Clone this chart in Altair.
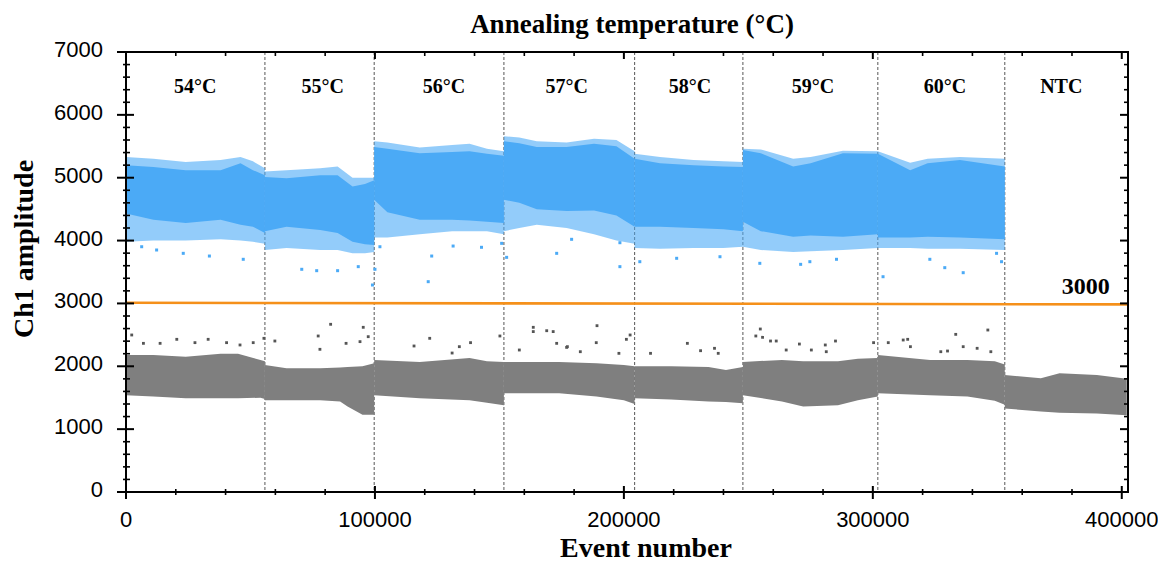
import altair as alt
import pandas as pd

# ---------------- data ----------------
boundaries = [55800, 99700, 151800, 204300, 247800, 302000, 353000]
seg_labels = ["54°C", "55°C", "56°C", "57°C", "58°C", "59°C", "60°C", "NTC"]
seg_label_x = [27800, 79000, 127700, 177000, 226500, 276000, 329000, 375700]
seg_label_y = 6450

# positive (blue) droplet bands per well
blue_x = [
    [0, 11000, 24000, 38000, 46000, 51000, 55800],
    [55800, 64500, 78000, 85000, 91000, 96000, 99700],
    [99700, 105000, 118000, 131000, 138000, 145000, 151800],
    [151800, 158000, 165000, 177000, 188000, 197000, 204300],
    [204300, 214500, 228000, 240000, 247800],
    [247800, 255000, 268000, 275000, 288000, 302000],
    [302000, 315000, 322000, 335000, 353000],
]
blue_core_hi = [
    [5200, 5170, 5120, 5120, 5230, 5120, 5040],
    [5010, 4990, 5040, 5040, 4860, 4900, 4960],
    [5490, 5460, 5390, 5410, 5420, 5380, 5350],
    [5580, 5550, 5490, 5490, 5540, 5500, 5300],
    [5300, 5230, 5200, 5180, 5170],
    [5440, 5390, 5180, 5230, 5390, 5380],
    [5380, 5120, 5230, 5280, 5180],
]
blue_core_lo = [
    [4430, 4330, 4280, 4330, 4250, 4220, 4120],
    [4150, 4220, 4170, 4120, 3980, 3940, 3930],
    [4650, 4450, 4330, 4330, 4320, 4300, 4280],
    [4650, 4600, 4500, 4470, 4480, 4400, 4220],
    [4220, 4220, 4200, 4180, 4150],
    [4300, 4150, 4060, 4080, 4060, 4100],
    [4050, 4050, 4060, 4050, 4020],
]
blue_fringe_hi = [
    [5330, 5300, 5250, 5280, 5330, 5260, 5150],
    [5100, 5120, 5150, 5180, 5000, 5000, 5000],
    [5580, 5560, 5480, 5520, 5540, 5460, 5420],
    [5660, 5640, 5580, 5560, 5620, 5600, 5420],
    [5380, 5330, 5280, 5260, 5250],
    [5460, 5450, 5300, 5330, 5430, 5420],
    [5420, 5240, 5300, 5330, 5300],
]
blue_fringe_lo = [
    [3980, 4000, 4000, 4020, 4000, 3980, 3950],
    [3850, 3880, 3850, 3850, 3800, 3800, 3820],
    [4050, 4050, 4100, 4150, 4150, 4150, 4100],
    [4150, 4200, 4250, 4200, 4100, 4000, 3950],
    [3880, 3870, 3880, 3880, 3900],
    [3900, 3850, 3820, 3830, 3850, 3880],
    [3880, 3880, 3870, 3870, 3850],
]

# negative (gray) droplet bands per well
gray_x = [
    [0, 11000, 24000, 38000, 45000, 54000, 55800],
    [55800, 64500, 78000, 86000, 89000, 95000, 99700],
    [99700, 118000, 138000, 145000, 151800],
    [151800, 174000, 189000, 200000, 204300],
    [204300, 219000, 234000, 241000, 247800],
    [247800, 263500, 272000, 286000, 294000, 302000],
    [302000, 323000, 338000, 349000, 353000],
    [353000, 367500, 375000, 390000, 402000],
]
gray_core_hi = [
    [2180, 2180, 2150, 2200, 2200, 2100, 2080],
    [2020, 1970, 1970, 1980, 1990, 2000, 2050],
    [2100, 2070, 2130, 2080, 2070],
    [2070, 2070, 2050, 2020, 2000],
    [2000, 2000, 1990, 1940, 1990],
    [2070, 2100, 2080, 2080, 2120, 2130],
    [2180, 2100, 2100, 2080, 2030],
    [1860, 1810, 1890, 1860, 1800],
]
gray_core_lo = [
    [1540, 1520, 1490, 1490, 1490, 1500, 1480],
    [1460, 1460, 1460, 1440, 1360, 1230, 1230],
    [1540, 1490, 1460, 1420, 1380],
    [1570, 1570, 1520, 1460, 1400],
    [1490, 1470, 1440, 1430, 1410],
    [1540, 1440, 1360, 1380, 1460, 1520],
    [1570, 1540, 1520, 1450, 1390],
    [1330, 1280, 1260, 1250, 1220],
]

# isolated droplets
blue_out_x = [6300, 12300, 23000, 33500, 47100, 70600, 76600, 85000, 93300, 99000, 100000,
              102000, 121400, 122800, 131400, 142800, 150900, 152900, 173000, 179000, 198400,
              198400, 206400, 221200, 238600, 254600, 271000, 274700, 285400, 304100, 322900,
              328900, 336300, 349700, 351700]
blue_out_y = [3902, 3850, 3797, 3754, 3702, 3543, 3521, 3521, 3585, 3293, 3543,
              3902, 3346, 3754, 3913, 3893, 3956, 3733, 3797, 4020, 3585,
              3966, 3664, 3718, 3743, 3638, 3622, 3664, 3702, 3425, 3702,
              3569, 3489, 3797, 3664]
gray_out_x = [2300, 7000, 13700, 20400, 27700, 33000, 40400, 45800, 51100, 55400, 59800,
              77200, 82200, 77900, 88400, 94000, 95300, 97300, 115700, 122000, 133900,
              138400, 150200, 163600, 163600, 169000, 171600, 173000, 177000, 131000, 158000,
              189200, 188900, 177300, 182500, 201000, 202500, 198000, 210700, 225500, 230800,
              236400, 237900, 253000, 254800, 255700, 258900, 261200, 265200, 270500, 275300,
              280900, 285000, 281300, 300300, 306200, 312200, 314000, 315100, 333300, 336300,
              341900, 346200, 347400, 327300, 330000]
gray_out_y = [2498, 2365, 2365, 2429, 2376, 2429, 2376, 2339, 2376, 2445, 2402,
              2482, 2668, 2270, 2365, 2392, 2620, 2471, 2323, 2445, 2312,
              2376, 2482, 2620, 2552, 2566, 2552, 2365, 2301, 2211, 2259,
              2646, 2376, 2312, 2232, 2429, 2498, 2206, 2206, 2365, 2248,
              2286, 2206, 2482, 2593, 2461, 2402, 2402, 2259, 2354, 2259,
              2339, 2402, 2232, 2376, 2376, 2418, 2429, 2312, 2508, 2312,
              2286, 2577, 2232, 2232, 2243]

threshold_x = [0, 402500]
threshold_y = [3010, 2985]
threshold_label = "3000"
threshold_label_x = 385500
threshold_label_y = 3260

x_major = [0, 100000, 200000, 300000, 400000]
x_minor = [v for v in range(20000, 400001, 20000) if v % 100000 != 0]
y_major = [0, 1000, 2000, 3000, 4000, 5000, 6000, 7000]
y_minor = [v for v in range(200, 7000, 200) if v % 1000 != 0]

title_text = "Annealing temperature (°C)"
x_title = "Event number"
y_title = "Ch1 amplitude"

# ---------------- build tables ----------------
def band_frame(xs, lo, hi):
    rows = []
    for s, (sx, sl, sh) in enumerate(zip(xs, lo, hi)):
        for a, b, c in zip(sx, sl, sh):
            rows.append({"seg": s, "x": a, "lo": b, "hi": c})
    return pd.DataFrame(rows)

blue_core = band_frame(blue_x, blue_core_lo, blue_core_hi)
blue_fringe = band_frame(blue_x, blue_fringe_lo, blue_fringe_hi)
gray_core = band_frame(gray_x, gray_core_lo, gray_core_hi)

W, H = 1002, 440
BLUE = "#4BAAF6"
GRAY = "#7F7F7F"
SERIF = "Liberation Serif"
SANS = "Liberation Sans"

xscale = alt.Scale(domain=[0, 402500], nice=False, zero=False)
yscale = alt.Scale(domain=[0, 7000], nice=False)

X = lambda f: alt.X(f, scale=xscale, axis=None)
Y = lambda f: alt.Y(f, scale=yscale, axis=None)
one = pd.DataFrame({"k": [0]})

bounds_df = pd.DataFrame({"x": boundaries})
dashes = alt.Chart(bounds_df).mark_rule(color="#666666", strokeDash=[3, 2], strokeWidth=1.1).encode(
    x=X("x:Q"), y=alt.value(0), y2=alt.value(H))

fringe = alt.Chart(blue_fringe).mark_area(color=BLUE, opacity=0.6, interpolate="linear").encode(
    x=X("x:Q"), y=Y("lo:Q"), y2="hi:Q", detail="seg:N")
bcore = alt.Chart(blue_core).mark_area(color=BLUE, opacity=1, interpolate="linear").encode(
    x=X("x:Q"), y=Y("lo:Q"), y2="hi:Q", detail="seg:N")
gcore = alt.Chart(gray_core).mark_area(color=GRAY, opacity=1, interpolate="linear").encode(
    x=X("x:Q"), y=Y("lo:Q"), y2="hi:Q", detail="seg:N")

bpts = alt.Chart(pd.DataFrame({"x": blue_out_x, "y": blue_out_y})).mark_square(
    color=BLUE, size=9, opacity=1).encode(x=X("x:Q"), y=Y("y:Q"))
gpts = alt.Chart(pd.DataFrame({"x": gray_out_x, "y": gray_out_y})).mark_square(
    color="#555555", size=8, opacity=1).encode(x=X("x:Q"), y=Y("y:Q"))

thr = alt.Chart(pd.DataFrame({"x": threshold_x, "y": threshold_y})).mark_line(
    color="#F5901A", strokeWidth=2.6).encode(x=X("x:Q"), y=Y("y:Q"))
thr_text = alt.Chart(pd.DataFrame({"x": [threshold_label_x], "y": [threshold_label_y],
                                   "t": [threshold_label]})).mark_text(
    font=SERIF, fontSize=24, fontWeight="bold", color="black").encode(
    x=X("x:Q"), y=Y("y:Q"), text="t:N")

labels = alt.Chart(pd.DataFrame({"x": seg_label_x, "y": [seg_label_y] * len(seg_label_x),
                                 "t": seg_labels})).mark_text(
    font=SERIF, fontSize=20, fontWeight="bold", color="black").encode(
    x=X("x:Q"), y=Y("y:Q"), text="t:N")

# frame
frame = [
    alt.Chart(one).mark_rule(color="black", strokeWidth=2).encode(
        x=alt.value(0), x2=alt.value(W), y=alt.value(0)),
    alt.Chart(one).mark_rule(color="black", strokeWidth=2).encode(
        x=alt.value(0), x2=alt.value(W), y=alt.value(H)),
    alt.Chart(one).mark_rule(color="black", strokeWidth=2).encode(
        x=alt.value(0), y=alt.value(0), y2=alt.value(H)),
    alt.Chart(one).mark_rule(color="black", strokeWidth=2).encode(
        x=alt.value(W), y=alt.value(0), y2=alt.value(H)),
]

# frame ticks (Origin-style: crossing / inward)
def vticks(vals, x0, x1, w):
    return alt.Chart(pd.DataFrame({"v": vals})).mark_rule(color="black", strokeWidth=w).encode(
        y=Y("v:Q"), x=alt.value(x0), x2=alt.value(x1))

def hticks(vals, y0, y1, w):
    return alt.Chart(pd.DataFrame({"v": vals})).mark_rule(color="black", strokeWidth=w).encode(
        x=X("v:Q"), y=alt.value(y0), y2=alt.value(y1))

tick_layers = [
    vticks(y_major, -9, 8, 2), vticks(y_minor, -3, 4, 1.6),
    vticks(y_major, W - 8, W, 2), vticks(y_minor, W - 4, W, 1.6),
    hticks(x_major, H - 6, H + 7, 2), hticks(x_minor, H - 3, H + 3, 1.6),
    hticks(x_major, 0, 7, 2), hticks(x_minor, 0, 4, 1.6),
]

# tick labels, axis titles and chart title as text
xlab = alt.Chart(pd.DataFrame({"v": x_major, "t": [str(v) for v in x_major]})).mark_text(
    font=SANS, fontSize=22, color="black", align="center", baseline="alphabetic").encode(
    x=X("v:Q"), y=alt.value(H + 35), text="t:N")
ylab = alt.Chart(pd.DataFrame({"v": y_major, "t": [str(v) for v in y_major]})).mark_text(
    font=SANS, fontSize=22, color="black", align="right", baseline="alphabetic", dy=5).encode(
    y=Y("v:Q"), x=alt.value(-23), text="t:N")
xtitle = alt.Chart(one).mark_text(
    font=SERIF, fontSize=28, fontWeight="bold", color="black", align="center",
    baseline="alphabetic").encode(
    x=alt.value(520), y=alt.value(H + 65), text=alt.value(x_title))
ytitle = alt.Chart(one).mark_text(
    font=SERIF, fontSize=28, fontWeight="bold", color="black", align="center",
    baseline="alphabetic", angle=270).encode(
    x=alt.value(-93), y=alt.value(197), text=alt.value(y_title))
ttitle = alt.Chart(one).mark_text(
    font=SERIF, fontSize=27, fontWeight="bold", color="black", align="center",
    baseline="alphabetic").encode(
    x=alt.value(506), y=alt.value(-19), text=alt.value(title_text))

chart = alt.layer(dashes, fringe, bcore, gcore, bpts, gpts, thr, thr_text, labels,
                  *frame, *tick_layers, xlab, ylab, xtitle, ytitle, ttitle).properties(
    width=W, height=H,
    autosize="none",
    padding={"left": 118, "top": 44, "right": 30, "bottom": 70},
).configure(background="white").configure_view(stroke="black", strokeWidth=2)

chart.save("out.html", embed_options={"renderer": "svg", "actions": False})
